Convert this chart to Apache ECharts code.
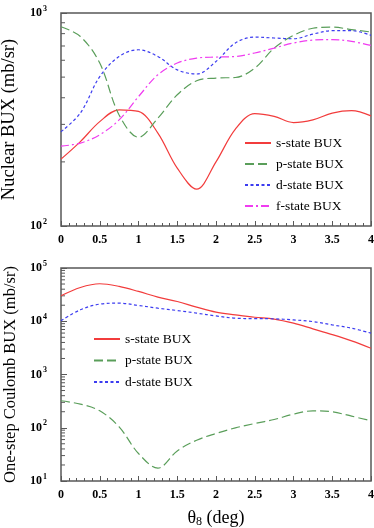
<!DOCTYPE html>
<html>
<head>
<meta charset="utf-8">
<script src="https://cdn.jsdelivr.net/npm/echarts@6/dist/echarts.min.js"></script>
<style>
  html, body { margin: 0; padding: 0; background: #fff; }
  #chart { width: 374px; height: 528px; }
</style>
</head>
<body>
<div id="chart"></div>
<script>
// scattering angle (deg)
const theta = [0, 0.25, 0.5, 0.75, 1, 1.25, 1.5, 1.75, 2, 2.25, 2.5, 2.75, 3, 3.25, 3.5, 3.75, 4]

// nuclear BUX (mb/sr)
const nucS = [206, 249, 309, 351, 345, 273, 187, 149, 200, 285, 337, 327, 306, 315, 339, 348, 329]
const nucP = [862, 776, 582, 332, 261, 321, 413, 481, 495, 498, 551, 684, 785, 848, 858, 836, 814]
const nucD = [277, 339, 503, 625, 672, 625, 541, 517, 592, 723, 771, 763, 757, 796, 826, 826, 785]
const nucF = [237, 245, 268, 315, 405, 513, 582, 614, 621, 625, 649, 684, 723, 746, 750, 736, 704]

// one-step Coulomb BUX (mb/sr)
const coulS = [30100, 43100, 50600, 45100, 36300, 28400, 23500, 18400, 14800, 13200, 11900, 11000, 9200, 7200, 5620, 4280, 3110]
const coulP = [321, 278, 208, 104, 32.8, 17.5, 36.7, 58.4, 78, 99.5, 120, 143, 180, 208, 199, 165, 135]
const coulD = [10200, 16400, 21000, 21900, 19800, 17600, 15900, 14200, 12600, 11400, 11200, 11100, 10600, 9860, 8550, 7410, 5970]

const names = ['s-state BUX', 'p-state BUX', 'd-state BUX', 'f-state BUX']
const nucDecades = [100]
const coulDecades = [10, 100, 1000, 10000]

const serif = 'Liberation Serif'
const frame = '#585858'
const styles = [
  { color: '#f23c3c', type: 'solid' },
  { color: '#5a9e5a', type: [9, 4] },
  { color: '#3c3cf0', type: [3, 2.5] },
  { color: '#f03cf0', type: [8, 3, 2, 3] }
]

const pairs = ys => theta.map((x, i) => [x, ys[i]])
const minorVals = decades => decades.flatMap(d => [2, 3, 4, 5, 6, 7, 8, 9].map(k => [0, k * d]))

const lineSeries = (name, ys, k, idx) => ({
  name: name,
  type: 'line',
  xAxisIndex: idx,
  yAxisIndex: idx,
  data: pairs(ys),
  smooth: 0.35,
  symbol: 'none',
  lineStyle: { color: styles[k].color, width: 1.2, type: styles[k].type },
  itemStyle: { color: styles[k].color }
})

// short log minor ticks on the left axis
const minorTicks = (decades, idx) => ({
  type: 'custom',
  xAxisIndex: idx,
  yAxisIndex: idx,
  silent: true,
  data: minorVals(decades),
  renderItem: (params, api) => {
    const p = api.coord([api.value(0), api.value(1)])
    return {
      type: 'line',
      shape: { x1: p[0], y1: p[1], x2: p[0] + 4, y2: p[1] },
      style: { stroke: frame, lineWidth: 1 }
    }
  }
})

const xAxisOf = (idx, withName) => ({
  type: 'value',
  gridIndex: idx,
  min: 0,
  max: 4,
  interval: 0.5,
  axisLine: { show: false },
  axisTick: { inside: true, length: 5, lineStyle: { color: frame } },
  minorTick: { show: true, splitNumber: 5, length: 3, lineStyle: { color: frame } },
  splitLine: { show: false },
  axisLabel: {
    color: '#000', fontFamily: serif, fontWeight: 'bold', fontSize: 12, margin: 8,
    formatter: v => String(v)
  },
  name: withName ? '{t|θ}{sub|8}{t| (deg)}' : '',
  nameLocation: 'middle',
  nameGap: 27,
  nameTextStyle: {
    rich: {
      t: { fontFamily: serif, fontSize: 18, color: '#000' },
      sub: { fontFamily: serif, fontSize: 12, color: '#000', padding: [8, 0, 0, 0] }
    }
  }
})

const yAxisOf = (idx, min, max, title, titleSize, gap) => ({
  type: 'log',
  logBase: 10,
  gridIndex: idx,
  min: min,
  max: max,
  axisLine: { show: false },
  axisTick: { inside: true, length: 6, lineStyle: { color: frame } },
  splitLine: { show: false },
  axisLabel: {
    margin: 14,
    formatter: v => '{b|10}{s|' + Math.round(Math.log10(v)) + '}',
    rich: {
      b: { fontFamily: serif, fontWeight: 'bold', fontSize: 12, color: '#000' },
      s: { fontFamily: serif, fontWeight: 'bold', fontSize: 8, color: '#000', padding: [0, 0, 9, 1] }
    }
  },
  name: title,
  nameLocation: 'middle',
  nameRotate: 90,
  nameGap: gap,
  nameTextStyle: { fontFamily: serif, fontSize: titleSize, color: '#000' }
})

const legendOf = (data, left, top, gap) => ({
  data: data,
  orient: 'vertical',
  left: left,
  top: top,
  itemWidth: 26,
  itemHeight: 10,
  itemGap: gap,
  selectedMode: false,
  itemStyle: { opacity: 0 },
  textStyle: { fontFamily: serif, fontSize: 13.5, color: '#000' }
})

const chart = echarts.init(document.getElementById('chart'))
chart.setOption({
  animation: false,
  grid: [
    { left: 61, top: 13, width: 310, height: 213, show: true, borderColor: frame, borderWidth: 1.5, outerBoundsMode: 'none' },
    { left: 61, top: 268, width: 310, height: 213, show: true, borderColor: frame, borderWidth: 1.5, outerBoundsMode: 'none' }
  ],
  xAxis: [xAxisOf(0, false), xAxisOf(1, true)],
  yAxis: [
    yAxisOf(0, 100, 1000, 'Nuclear BUX (mb/sr)', 18.5, 40),
    yAxisOf(1, 10, 100000, 'One-step Coulomb BUX (mb/sr)', 16.5, 40)
  ],
  legend: [
    legendOf(names, 239, 131, 7),
    legendOf(names.slice(0, 3), 88, 327, 7.5)
  ],
  series: [
    lineSeries(names[0], nucS, 0, 0),
    lineSeries(names[1], nucP, 1, 0),
    lineSeries(names[2], nucD, 2, 0),
    lineSeries(names[3], nucF, 3, 0),
    lineSeries(names[0], coulS, 0, 1),
    lineSeries(names[1], coulP, 1, 1),
    lineSeries(names[2], coulD, 2, 1),
    minorTicks(nucDecades, 0),
    minorTicks(coulDecades, 1)
  ]
})
</script>
</body>
</html>
